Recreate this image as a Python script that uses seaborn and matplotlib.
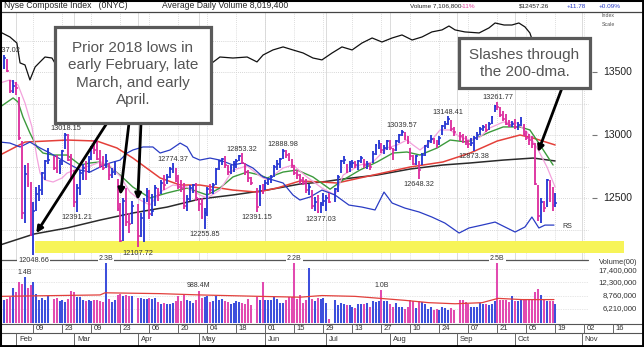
import numpy as np
import pandas as pd
import matplotlib
matplotlib.use("Agg")
import matplotlib.pyplot as plt
import seaborn as sns
from matplotlib.patches import Rectangle

sns.set_style("white")
plt.rcParams["font.family"] = ["Liberation Sans", "DejaVu Sans"]

# ---------------- data ----------------
START, END, ORIGIN = "2018-01-26", "2018-10-19", "2018-02-01"
HOLIDAYS = ["2018-02-19", "2018-03-30", "2018-05-28", "2018-07-04", "2018-09-03"]

high = [13637.02,
        13600, 13440, 13440, 13420, 13300,
        12950, 12760, 12780, 12630, 12470,
        12590, 12600, 12710, 12800, 12900,
        12830, 12840, 12800, 12880,
        13018.15, 13010, 12850, 12720, 12610,
        12720, 12770, 12790, 12830, 12910,
        12960, 12950, 12880, 12830, 12850,
        12780, 12740, 12790, 12650, 12460,
        12500, 12580, 12380, 12480,
        12450, 12380, 12500, 12580, 12560,
        12530, 12600, 12580, 12640, 12680,
        12690, 12750, 12774.37, 12740, 12680,
        12640, 12620, 12520, 12600, 12610,
        12620, 12500, 12500, 12420, 12590,
        12610, 12620, 12740, 12800, 12820,
        12830, 12760, 12760, 12790, 12810,
        12840, 12853.32, 12780, 12720, 12670,
        12580, 12600, 12610, 12640,
        12660, 12680, 12760, 12800, 12820,
        12888.98, 12880, 12860, 12810, 12760,
        12720, 12690, 12670, 12650, 12610,
        12560, 12510, 12520, 12470, 12540,
        12520, 12540, 12580, 12680,
        12800, 12830, 12770, 12790, 12800,
        12790, 12800, 12830, 12810, 12790,
        12780, 12870, 12930, 12960, 12940,
        12920, 12960, 12960, 12900, 12960,
        13010, 13039.57, 13020, 12990, 12900,
        12840, 12840, 12790, 12860, 12920,
        12960, 13000, 12980, 12960, 12990,
        13080, 13110, 13148.41, 13120, 13060,
        13020, 13010, 12990, 12960,
        12980, 12990, 13020, 13060, 13080,
        13090, 13100, 13150, 13240, 13261.77,
        13220, 13190, 13170, 13120, 13110,
        13130, 13100, 13140, 13090, 13030,
        13010, 12990, 12940, 12600, 12500,
        12480, 12650, 12640, 12590, 12540]

low = [13520,
       13500, 13330, 13330, 13320, 12960,
       12330, 12300, 12590, 12200, 12048.66,
       12400, 12480, 12520, 12640, 12770,
       12720, 12700, 12690, 12760,
       12890, 12790, 12660, 12430, 12391.21,
       12520, 12640, 12640, 12700, 12800,
       12850, 12800, 12740, 12720, 12740,
       12640, 12660, 12680, 12400, 12150,
       12160, 12280, 12220, 12290,
       12107.72, 12190, 12150, 12470, 12330,
       12360, 12440, 12480, 12530, 12560,
       12610, 12660, 12700, 12630, 12570,
       12550, 12410, 12400, 12480, 12540,
       12480, 12400, 12330, 12255.85, 12360,
       12530, 12530, 12600, 12720, 12760,
       12740, 12680, 12690, 12710, 12740,
       12790, 12770, 12680, 12630, 12600,
       12391.15, 12440, 12530, 12560,
       12600, 12620, 12670, 12720, 12740,
       12810, 12820, 12790, 12740, 12680,
       12650, 12610, 12600, 12540, 12520,
       12410, 12400, 12380, 12377.03, 12440,
       12400, 12460, 12470, 12550,
       12700, 12770, 12700, 12710, 12740,
       12740, 12720, 12780, 12740, 12730,
       12720, 12780, 12840, 12890, 12860,
       12850, 12880, 12880, 12800, 12870,
       12940, 12990, 12960, 12930, 12800,
       12760, 12760, 12648.32, 12760, 12830,
       12900, 12940, 12930, 12900, 12920,
       13000, 13050, 13080, 13030, 12990,
       12950, 12940, 12920, 12900,
       12910, 12873.38, 12960, 13000, 13030,
       13020, 13040, 13090, 13180, 13200,
       13140, 13110, 13080, 13060, 13060,
       13050, 13040, 13070, 12990, 12960,
       12920, 12900, 12600, 12320, 12300,
       12390, 12430, 12470, 12400, 12430]

close = [13610,
         13510, 13350, 13390, 13370, 12975,
         12380, 12690, 12610, 12210, 12400,
         12530, 12560, 12700, 12790, 12800,
         12740, 12710, 12730, 12870,
         13000, 12800, 12670, 12470, 12580,
         12700, 12740, 12720, 12800, 12900,
         12880, 12810, 12760, 12740, 12790,
         12680, 12710, 12720, 12410, 12160,
         12480, 12310, 12290, 12440,
         12200, 12340, 12480, 12550, 12370,
         12400, 12580, 12520, 12620, 12600,
         12670, 12730, 12750, 12660, 12590,
         12580, 12440, 12490, 12580, 12600,
         12500, 12450, 12350, 12380, 12570,
         12560, 12600, 12730, 12790, 12810,
         12760, 12710, 12740, 12770, 12790,
         12830, 12780, 12710, 12660, 12620,
         12430, 12590, 12550, 12620,
         12650, 12670, 12750, 12770, 12810,
         12870, 12840, 12800, 12760, 12700,
         12680, 12640, 12620, 12560, 12590,
         12440, 12470, 12390, 12450, 12480,
         12500, 12470, 12570, 12670,
         12790, 12800, 12720, 12770, 12780,
         12760, 12790, 12820, 12760, 12770,
         12750, 12850, 12920, 12940, 12880,
         12900, 12950, 12900, 12880, 12950,
         13000, 13020, 12990, 12950, 12830,
         12770, 12830, 12720, 12840, 12910,
         12950, 12970, 12950, 12920, 12980,
         13070, 13090, 13130, 13050, 13020,
         12990, 12970, 12950, 12930,
         12940, 12980, 13000, 13050, 13060,
         13040, 13090, 13140, 13230, 13220,
         13160, 13130, 13090, 13080, 13090,
         13060, 13080, 13110, 13010, 12980,
         12960, 12930, 12610, 12360, 12470,
         12420, 12640, 12600, 12445, 12457.26]

volume_m = [790,
            800, 840, 1050, 950, 1230,
            1180, 1400, 1050, 1150, 1230,
            900, 790, 830, 790, 860,
            800, 830, 760, 780,
            740, 800, 980, 950, 840,
            840, 780, 760, 790, 760,
            790, 780, 760, 740, 2300,
            800, 740, 790, 880, 900,
            860, 880, 860, 860,
            830, 820, 800, 800, 820,
            800, 820, 740, 700, 720,
            700, 700, 720, 760, 860,
            760, 880, 780, 760, 720,
            790, 988.4, 820, 840, 860,
            740, 760, 860, 780, 800,
            760, 740, 700, 720, 760,
            740, 720, 700, 800, 690,
            850, 780, 1230, 780,
            780, 790, 840, 810, 720,
            720, 780, 840, 840, 2200,
            800, 880, 720, 780, 1760,
            800, 760, 830, 800, 820,
            720, 480, 780, 690,
            720, 700, 690, 690, 650,
            640, 700, 700, 700, 720,
            650, 760, 740, 760, 1000,
            760, 760, 700, 650, 720,
            660, 650, 620, 650, 780,
            760, 640, 770, 740, 700,
            620, 650, 600, 620, 600,
            650, 630, 600, 640, 600,
            780, 780, 740, 700,
            660, 660, 660, 720, 700,
            700, 680, 700, 760, 2500,
            780, 780, 780, 740, 860,
            760, 770, 800, 780, 800,
            790, 780, 950, 1030, 880,
            780, 760, 760, 760, 700]

# moving averages / overlay lines (x in weekdays from Feb 1)
ma_short_day = [-5.5, -2.1, 0.7, 3.1, 5.5, 7.2, 8.3, 10, 12.8, 15.9, 17.6, 22.1, 25.5, 29, 32.4,
                35.9, 39.3, 42.8, 46.2, 49.7, 54.1, 59, 63.4, 65.9, 70.3, 74.8, 79.7, 84.1, 86.6, 92.1,
                95.5, 100.3, 105.5, 110, 112.8, 118.6, 123.1, 127.9, 131.4, 134.8, 136.9, 139.3, 142.8,
                146.2, 149.7, 153.1, 156.6, 160, 163.4, 168, 172.8, 176.2, 179.7, 183.1, 185.9]
ma_short = [13413, 13437, 13397, 13254, 13064, 12825, 12698, 12643, 12627, 12659, 12698, 12738, 12754,
            12786, 12754, 12674, 12547, 12484, 12444, 12547, 12603, 12587, 12524, 12500, 12563, 12722,
            12754, 12674, 12643, 12738, 12762, 12667, 12579, 12524, 12682, 12762, 12786, 12897, 12921,
            12960, 12921, 12881, 12944, 13040, 13040, 12984, 12960, 12984, 13056, 13103, 13095, 13024,
            12897, 12746, 12587]

ma_mid_day = [-5.5, -1, 0.7, 2.4, 4.8, 7.2, 9.3, 12.8, 17.6, 22.1, 25.5, 29, 32.4, 35.9, 40.3, 46.2,
              52.1, 59, 65.9, 70.3, 74.8, 79.7, 84.1, 86.6, 92.1, 96.9, 102.4, 108.3, 112.8, 118.6,
              124.5, 130, 134.8, 139.3, 145.2, 149.7, 155.5, 163.4, 168, 173.8, 177.2, 180.7, 185.2]
ma_mid = [13222, 13294, 13262, 13143, 13016, 12905, 12857, 12841, 12841, 12762, 12778, 12786, 12746,
          12682, 12587, 12500, 12540, 12579, 12524, 12579, 12667, 12706, 12682, 12659, 12706, 12722,
          12667, 12570, 12643, 12722, 12786, 12857, 12865, 12841, 12897, 12960, 12944, 13024, 13064,
          13064, 13040, 12921, 12762]

ma50_day = [-5.5, 3.1, 17.6, 27.9, 34.8, 40.3, 49.7, 56.6, 63.4, 74.8, 83.1, 90, 97.9, 105.5, 110.7,
            118.6, 135.9, 147.2, 156.6, 165.9, 173.8, 178.3, 185.9]
ma50 = [12841, 12944, 12960, 12952, 12897, 12817, 12659, 12603, 12603, 12563, 12547, 12579, 12635,
        12627, 12619, 12659, 12746, 12786, 12857, 12952, 13000, 12976, 12921]

ma200_day = [-5.5, 6.2, 17.6, 29, 40.3, 52.1, 63.4, 74.8, 86.6, 97.9, 105.5, 112.8, 124.5, 135.9,
             147.2, 156.6, 168, 178.3, 185.9]
ma200 = [12127, 12214, 12262, 12325, 12381, 12428, 12492, 12524, 12563, 12611, 12627, 12651, 12682,
         12730, 12762, 12778, 12801, 12817, 12794]

rs_day = [-5.5, -2.1, 1.4, 4.8, 8.3, 11.7, 17.6, 22.1, 25.5, 29, 32.4, 35.9, 38.3, 40.3, 43.8, 47.2,
          49.7, 53.1, 56.6, 59, 61, 63.4, 66.9, 70.3, 74.8, 78.3, 81.7, 85.2, 88.6, 92.1, 95.5, 97.9,
          101.4, 105.5, 110, 114.8, 119.3, 123.8, 126.9, 129.7, 134.1, 139, 143.4, 147.9, 152.8,
          156.2, 160.7, 165.2, 168.6, 172.1, 175.5, 177.9, 180.3, 182.4, 185.5]
rs = [12944, 12936, 12905, 12944, 12897, 12857, 12778, 12722, 12706, 12746, 12778, 12801, 12857,
      12881, 12905, 12905, 12857, 12881, 12936, 12905, 12825, 12801, 12817, 12801, 12762, 12778,
      12738, 12667, 12643, 12619, 12524, 12484, 12508, 12563, 12524, 12444, 12428, 12405, 12547,
      12460, 12420, 12389, 12349, 12301, 12222, 12262, 12285, 12309, 12270, 12230, 12270, 12349,
      12262, 12285, 12285]

cmp_day = [-5.5, -2.1, 0.3, 1.4, 3.1, 4.8, 6.6, 8.3, 10, 12.4, 13.4, 67.6, 70.3, 74.8, 79.7, 83.1,
           85.2, 88.6, 92.1, 95.5, 99, 102.4, 105.5, 109, 112.4, 115.9, 119.3, 122.8, 126.2, 129.7,
           133.1, 136.6, 140, 143.4, 146.9, 149.3, 151.4, 154.8, 159.7, 163.1, 165.2, 168.3, 171,
           173.4, 175.5, 177.2, 178.6]
cmp = [13818, 13778, 13730, 13572, 13556, 13437, 13540, 13580, 13619, 13611, 13572, 13572, 13619,
       13611, 13619, 13580, 13635, 13675, 13699, 13675, 13651, 13611, 13596, 13651, 13699, 13675,
       13730, 13770, 13738, 13770, 13794, 13754, 13778, 13818, 13834, 13865, 13834, 13818, 13810,
       13850, 13889, 13873, 13873, 13889, 13858, 13810, 13715]

vavg_day = [-5.5, 29, 30.7, 49.7, 63.4, 84.1, 97.9, 105.5, 116.9, 134.1, 142.4, 151.4, 160.7, 166.2,
            174.5, 185.5]
vavg = [858, 890, 940, 920, 890, 858, 840, 876, 858, 775, 730, 710, 730, 815, 790, 790]

price_levels = [12250, 12500, 12750, 13000, 13250, 13500, 13750]
price_labels = [12500, 13000, 13500]
vol_levels = [621, 876, 1230, 1740]
vol_level_text = ["6,210,000", "8,760,000", "12,300,000", "17,400,000"]
band_lo, band_hi = 12063, 12158
band_from, band_to = "2018-02-09", "2018-11-21"

hi_label_days = ["2018-01-26", "2018-02-26", "2018-04-18", "2018-05-22", "2018-06-11",
                 "2018-08-07", "2018-08-29", "2018-09-21"]
lo_label_days = ["2018-03-02", "2018-04-02", "2018-05-03", "2018-05-29", "2018-06-28",
                 "2018-08-15", "2018-09-11"]
line_low_day = "2018-02-09"
vol_label_days = ["2018-02-06", "2018-03-16", "2018-05-01", "2018-06-15", "2018-07-27", "2018-09-21"]
vol_label_text = ["1.4B", "2.3B", "988.4M", "2.2B", "1.0B", "2.5B"]

# ---------------- helpers ----------------
days = pd.bdate_range(START, END)
days = days[~days.isin(pd.to_datetime(HOLIDAYS))]


def wd(dates):
    d = np.array(pd.to_datetime(dates).values, dtype="datetime64[D]")
    return np.busday_count(np.datetime64(ORIGIN), d).astype(float)


x = wd(days)
n = len(x)
high, low, close, volume_m = [np.array(a[:n], float) for a in (high, low, close, volume_m)]
up = np.r_[True, close[1:] >= close[:-1]]
BLUE, PINK = "#2232d2", "#dc2a9c"
VBLUE, VPINK = "#3d4fdc", "#e24ab0"
pcol = [BLUE if u else PINK for u in up]
vcol = [VBLUE if u else VPINK for u in up]

W, H = 644.0, 347.0
fig = plt.figure(figsize=(6.44, 3.47), dpi=100)
fig.patch.set_facecolor("white")


def fyp(py):
    return 1.0 - py / H


XL = (-16 / 2.9, (W - 16) / 2.9)
GRID_END = (588 - 16) / 2.9
P_TOP = 13000 + (135 - 12) * 500 / 63
P_BOT = 13000 - (260 - 135) * 500 / 63
V_TOP = 621 * 10 ** (49 / 90)
V_BOT = 621 * 10 ** (-14 / 90)

ax_p = fig.add_axes([0, fyp(260), 1, (260 - 12) / H])
ax_v = fig.add_axes([0, fyp(323), 1, (323 - 260) / H])
ax_d = fig.add_axes([0, 0, 1, (347 - 323) / H])

tick_days = pd.date_range("2018-02-09", "2018-11-16", freq="14D")
tick_x = wd(tick_days)
month_days = pd.date_range("2018-02-01", "2018-11-30", freq="BMS")
month_x = wd(month_days)

# ---------------- price panel ----------------
ax_p.hlines(price_levels, XL[0], GRID_END, colors="#c9c9c9", lw=0.6,
            linestyles=(0, (1, 1.5)), zorder=1)
gx = tick_x[tick_x < GRID_END]
ax_p.vlines(gx, P_BOT, P_TOP, colors="#d2d2d2", lw=0.6, linestyles=(0, (1, 1.5)), zorder=1)
mx = month_x[month_x < GRID_END]
ax_p.vlines(mx, P_BOT, P_TOP, colors="#d6d6d6", lw=0.6, zorder=1)

bx = wd([band_from, band_to]) + 0.5
ax_p.fill_between(bx, band_lo, band_hi, color="#f7f458", lw=0, zorder=2)

sns.lineplot(x=cmp_day, y=cmp, ax=ax_p, color="#111111", lw=0.9, zorder=3)
sns.lineplot(x=ma200_day, y=ma200, ax=ax_p, color="#2b2b2b", lw=1.1, zorder=3)
sns.lineplot(x=ma50_day, y=ma50, ax=ax_p, color="#e4403a", lw=1.1, zorder=3)
sns.lineplot(x=ma_mid_day, y=ma_mid, ax=ax_p, color="#3c9a3c", lw=1.0, zorder=3)
sns.lineplot(x=ma_short_day, y=ma_short, ax=ax_p, color="#f3a2dc", lw=0.9, zorder=3)
sns.lineplot(x=rs_day, y=rs, ax=ax_p, color="#2a3cc4", lw=0.9, zorder=3)

ax_p.vlines(x, low, high, colors=pcol, lw=1.3, zorder=4)
ax_p.hlines(close, x, x + 0.65, colors=pcol, lw=1.1, zorder=4)

for d in hi_label_days:
    i = int(np.where(x == wd([d])[0])[0][0])
    ax_p.annotate(f"{high[i]:.2f}", (x[i], high[i]), xytext=(0, 0.5), textcoords="offset points",
                  ha="center", va="bottom", fontsize=5.3, color="#333333", zorder=6)
for d in lo_label_days:
    i = int(np.where(x == wd([d])[0])[0][0])
    ax_p.annotate(f"{low[i]:.2f}", (x[i], low[i]), xytext=(0, -1.5), textcoords="offset points",
                  ha="center", va="top", fontsize=5.3, color="#333333", zorder=6)

for lev in price_labels:
    ax_p.hlines(lev, (592 - 16) / 2.9, (597 - 16) / 2.9, colors="#777777", lw=0.8)
    ax_p.text((603 - 16) / 2.9, lev, f"{lev}", fontsize=7.5, va="center", ha="left", color="#222222")

ax_p.text((562 - 16) / 2.9, rs[-1] - 10, "RS", fontsize=5, va="center", ha="left", color="#333333")

ax_p.set_xlim(*XL)
ax_p.set_ylim(P_BOT, P_TOP)
ax_p.axis("off")

# arrows
arrows = [((107, 123), "2018-02-12", 12222), ((129, 123), "2018-03-23", 12524),
          ((141, 123), "2018-04-02", 12484), ((562, 88), "2018-10-11", 12865)]
for (sx, sy), d, p in arrows:
    ax_p.annotate("", xy=(wd([d])[0], p), xycoords="data", xytext=(sx, H - sy),
                  textcoords="figure pixels", annotation_clip=False, zorder=8,
                  arrowprops=dict(arrowstyle="-|>", color="black", lw=2.0,
                                  mutation_scale=9, shrinkA=0, shrinkB=0))

# ---------------- volume panel ----------------
ax_v.set_yscale("log")
ax_v.hlines(vol_levels, XL[0], GRID_END, colors="#d0d0d0", lw=0.5, linestyles=(0, (1, 1.5)), zorder=1)
ax_v.vlines(x, V_BOT, volume_m, colors=vcol, lw=1.45, zorder=3)
sns.lineplot(x=vavg_day, y=vavg, ax=ax_v, color="#e2403c", lw=0.9, zorder=4)
ax_v.plot([XL[0], GRID_END], [1, 1], transform=ax_v.get_xaxis_transform(), clip_on=False,
          color="#555555", lw=0.9, zorder=5)
for d, t in zip(vol_label_days, vol_label_text):
    i = int(np.where(x == wd([d])[0])[0][0])
    if volume_m[i] >= V_TOP:
        ax_v.text(x[i], 1.02, t, transform=ax_v.get_xaxis_transform(), ha="center", va="center",
                  fontsize=5, color="#333333", zorder=6,
                  bbox=dict(fc="white", ec="none", pad=0.6))
    else:
        ax_v.annotate(t, (x[i], volume_m[i]), xytext=(0, 1), textcoords="offset points",
                      ha="center", va="bottom", fontsize=5, color="#333333", zorder=6)
il = int(np.where(x == wd([line_low_day])[0])[0][0])
ax_v.text(x[il], 1.0, f"{low[il]:.2f}", transform=ax_v.get_xaxis_transform(), ha="center",
          va="center", fontsize=5.3, color="#333333", zorder=6,
          bbox=dict(fc="white", ec="none", pad=0.6))
for lev, t in zip(vol_levels, vol_level_text):
    ax_v.annotate(t, ((637 - 16) / 2.9, lev), xytext=(0, -1.2 if lev == vol_levels[-1] else 0),
                  textcoords="offset points", fontsize=5.6, ha="right", va="center", color="#333333")
ax_v.text((637 - 16) / 2.9, 0.965, "Volume(00)", transform=ax_v.get_xaxis_transform(),
          fontsize=5.4, ha="right", va="center", color="#333333")
ax_v.set_xlim(*XL)
ax_v.set_ylim(V_BOT, V_TOP)
ax_v.axis("off")

# ---------------- date axis ----------------
ax_d.set_xlim(*XL)
ax_d.set_ylim(347, 323)
ax_d.hlines([323.5, 333], XL[0], XL[1], colors="#555555", lw=0.8)
ax_d.vlines(tick_x, 323.5, 333, colors="#666666", lw=0.7)
for tx, td in zip(tick_x, tick_days):
    ax_d.text(tx + 0.7, 328.4, td.strftime("%d"), fontsize=5.5, va="center", ha="left", color="#333333")
ax_d.vlines(month_x, 333, 346, colors="#666666", lw=0.7)
for tx, td in zip(month_x, month_days):
    ax_d.text(tx + 1.0, 339.5, td.strftime("%b"), fontsize=5.5, va="center", ha="left", color="#333333")
ax_d.axis("off")

# ---------------- header ----------------
hy = fyp(6)
fig.text(4 / W, hy, "Nyse Composite Index   (0NYC)", fontsize=6.2, va="center", color="#222222")
fig.text(162 / W, hy, "Average Daily Volume 8,019,400", fontsize=6.2, va="center", color="#222222")
fig.text(410 / W, hy, "Volume 7,106,800", fontsize=4.6, va="center", color="#222222")
fig.text(461 / W, hy, "-11%", fontsize=4.6, va="center", color="#e0409c")
fig.text(519 / W, hy, "$12457.26", fontsize=4.6, va="center", color="#222222")
fig.text(567 / W, hy, "+11.78", fontsize=4.6, va="center", color="#2a3cc4")
fig.text(599 / W, hy, "+0.09%", fontsize=4.6, va="center", color="#2a3cc4")
fig.text(602 / W, fyp(15.5), "Index", fontsize=3.8, va="center", color="#555555")
fig.text(602 / W, fyp(25), "Scale", fontsize=3.8, va="center", color="#555555")
fig.add_artist(plt.Line2D([0, 1], [fyp(12), fyp(12)], transform=fig.transFigure, color="#444444", lw=0.9))

# ---------------- annotation boxes ----------------
for (l, t, r, b) in [(55, 27, 211, 123), (459, 38, 590, 88)]:
    fig.add_artist(Rectangle((l / W, fyp(b)), (r - l) / W, (b - t) / H, transform=fig.transFigure,
                             fc="white", ec="#5a5a5a", lw=2.3, zorder=5))
fig.text(133 / W, fyp(74), "Prior 2018 lows in\nearly February, late\nMarch, and early\nApril.",
         ha="center", va="center", fontsize=11, color="#555555", linespacing=1.3, zorder=6)
fig.text(524.5 / W, fyp(63.5), "Slashes through\nthe 200-dma.", ha="center", va="center",
         fontsize=11, color="#555555", linespacing=1.3, zorder=6)

# frame
fig.add_artist(Rectangle((0, 0), 1, 1, transform=fig.transFigure, fill=False, ec="black", lw=2.2, zorder=20))
fig.add_artist(plt.Line2D([1, 1], [0, 1], transform=fig.transFigure, color="black", lw=3.5, zorder=20))
fig.add_artist(plt.Line2D([0, 1], [0, 0], transform=fig.transFigure, color="black", lw=3.5, zorder=20))

fig.savefig("out.png", dpi=100, facecolor="white")
